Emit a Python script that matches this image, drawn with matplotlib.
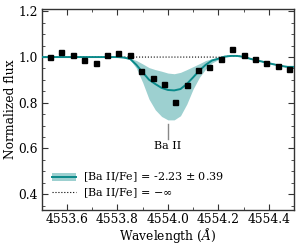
import matplotlib
matplotlib.use("Agg")
import matplotlib.pyplot as plt
from matplotlib.patches import Patch
from matplotlib.lines import Line2D
import numpy as np

plt.rcParams['font.family'] = ['DejaVu Serif']
plt.rcParams['mathtext.fontset'] = 'dejavuserif'

# Observed data
obs_wave = [4553.532, 4553.577, 4553.622, 4553.667, 4553.713, 4553.758, 4553.803,
            4553.848, 4553.893, 4553.939, 4553.984, 4554.029, 4554.075, 4554.120,
            4554.165, 4554.210, 4554.255, 4554.300, 4554.346, 4554.391, 4554.436,
            4554.481]
obs_flux = [1.002, 1.024, 1.011, 0.985, 0.975, 1.010, 1.017, 1.010, 0.938, 0.907,
            0.884, 0.804, 0.876, 0.944, 0.957, 0.990, 1.036, 1.007, 0.993, 0.976,
            0.963, 0.949]

# Model spectra
model_wave = [4553.500, 4553.525, 4553.550, 4553.575, 4553.600, 4553.625, 4553.650,
              4553.675, 4553.700, 4553.725, 4553.750, 4553.775, 4553.800, 4553.825,
              4553.850, 4553.875, 4553.900, 4553.925, 4553.950, 4553.975, 4554.000,
              4554.025, 4554.050, 4554.075, 4554.100, 4554.125, 4554.150, 4554.175,
              4554.200, 4554.225, 4554.250, 4554.275, 4554.300, 4554.325, 4554.350,
              4554.375, 4554.400, 4554.425, 4554.450, 4554.475, 4554.500]
model_flux = [1.000, 1.000, 1.000, 1.000, 1.000, 1.000, 1.000, 1.000, 1.000, 1.000,
              1.000, 1.000, 1.000, 0.998, 0.992, 0.966, 0.933, 0.901, 0.882, 0.865,
              0.856, 0.854, 0.860, 0.882, 0.911, 0.941, 0.966, 0.985, 0.993, 1.002,
              1.005, 1.005, 1.001, 0.993, 0.986, 0.980, 0.973, 0.967, 0.961, 0.957,
              0.957]
model_upper = [1.000, 1.000, 1.000, 1.000, 1.000, 1.000, 1.000, 1.000, 1.000, 1.000,
               1.000, 1.000, 1.000, 0.999, 0.995, 0.985, 0.970, 0.954, 0.945, 0.938,
               0.930, 0.927, 0.933, 0.945, 0.958, 0.971, 0.985, 0.993, 0.996, 1.002,
               1.005, 1.005, 1.001, 0.993, 0.986, 0.980, 0.973, 0.967, 0.961, 0.957,
               0.957]
model_lower = [1.000, 1.000, 1.000, 1.000, 1.000, 1.000, 1.000, 1.000, 1.000, 1.000,
               1.000, 1.000, 1.000, 0.996, 0.989, 0.951, 0.889, 0.816, 0.769, 0.740,
               0.725, 0.725, 0.743, 0.794, 0.860, 0.911, 0.948, 0.974, 0.989, 1.000,
               1.005, 1.005, 1.001, 0.993, 0.986, 0.980, 0.973, 0.967, 0.961, 0.957,
               0.957]
nolines_flux = [1.000, 1.000, 1.000, 1.000, 1.000, 1.000, 1.000, 1.000, 1.000, 1.000,
                1.000, 1.000, 1.000, 1.000, 1.000, 1.000, 1.000, 1.000, 1.000, 1.000,
                1.000, 1.000, 1.000, 1.000, 1.000, 1.000, 1.000, 1.000, 0.999, 1.002,
                1.005, 1.005, 1.001, 0.993, 0.986, 0.980, 0.973, 0.967, 0.961, 0.957,
                0.957]

line_wave = 4554.0
line_label = "Ba II"
label_fit = "[Ba II/Fe] = -2.23 $\\pm$ 0.39"
label_none = "[Ba II/Fe] = $-\\infty$"

teal = '#0a8a8a'

fig = plt.figure(figsize=(2.99, 2.46), dpi=100)
ax = fig.add_axes([0.140, 0.146, 0.843, 0.817])

ax.fill_between(model_wave, model_lower, model_upper, color=teal, alpha=0.4,
                linewidth=0, zorder=1)
ax.plot(model_wave, nolines_flux, color='k', ls=':', lw=0.8, zorder=2)
ax.plot(model_wave, model_flux, color=teal, lw=1.4, zorder=3)
ax.plot(obs_wave, obs_flux, 's', color='k', ms=3.6, zorder=4)

ax.plot([line_wave, line_wave], [0.642, 0.708], color='#888888', lw=1.0)
ax.text(line_wave, 0.611, line_label, ha='center', va='center', fontsize=8)

ax.set_xlim(4553.505, 4554.5)
ax.set_ylim(0.33, 1.21)
ax.set_xticks([4553.6, 4553.8, 4554.0, 4554.2, 4554.4])
ax.set_xticklabels(['4553.6', '4553.8', '4554.0', '4554.2', '4554.4'])
ax.set_yticks([0.4, 0.6, 0.8, 1.0, 1.2])
ax.set_yticklabels(['0.4', '0.6', '0.8', '1.0', '1.2'])
ax.set_xticks(np.arange(4553.5, 4554.51, 0.1), minor=True)
ax.set_yticks(np.arange(0.35, 1.21, 0.05), minor=True)
ax.tick_params(which='both', direction='in', top=True, right=True,
               colors='#333333', labelcolor='k', labelsize=8.8)
ax.tick_params(which='major', length=4, width=0.8)
ax.tick_params(which='minor', length=2, width=0.6)
ax.tick_params(axis='x', pad=2)
ax.tick_params(axis='y', pad=3)
for s in ax.spines.values():
    s.set_color('#333333')
    s.set_linewidth(1.0)

ax.set_xlabel('Wavelength ($\\AA$)', fontsize=8.8, labelpad=0)
ax.set_ylabel('Normalized flux', fontsize=8.8, labelpad=1)

h1 = (Patch(facecolor=teal, alpha=0.4, edgecolor='none'),
      Line2D([], [], color=teal, lw=1.4))
h2 = Line2D([], [], color='k', ls=':', lw=0.8)
ax.legend([h1, h2], [label_fit, label_none], loc='lower left', frameon=False,
          fontsize=8, handlelength=2.2, handletextpad=0.6, labelspacing=0.2,
          bbox_to_anchor=(0.0, 0.0))

fig.savefig('out.png', dpi=100)
